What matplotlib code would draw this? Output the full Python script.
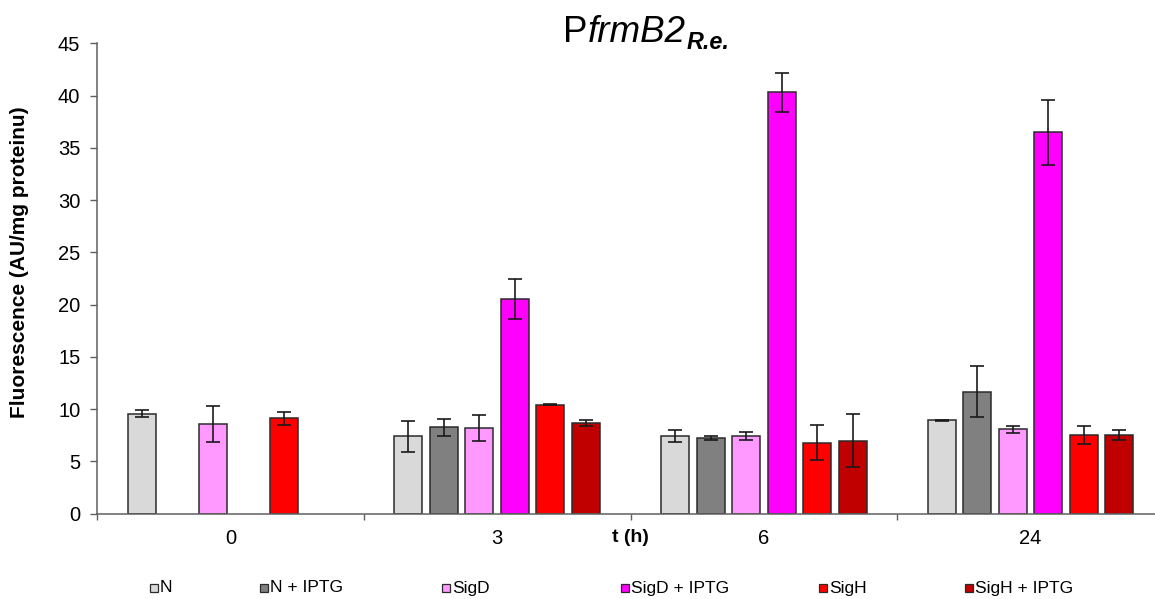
import matplotlib
matplotlib.use("Agg")
import matplotlib.pyplot as plt
import numpy as np
from matplotlib.patches import Rectangle

plt.rcParams["font.family"] = ["Liberation Sans", "DejaVu Sans"]

# time points (h) and strains
times = ["0", "3", "6", "24"]
series = ["N", "N + IPTG", "SigD", "SigD + IPTG", "SigH", "SigH + IPTG"]
colors = ["#D9D9D9", "#808080", "#FF99FF", "#FF00FF", "#FF0000", "#C00000"]

# fluorescence (AU/mg proteinu), one list per series over the time points
n_vals = [9.57, 7.43, 7.43, 8.93]
n_iptg_vals = [np.nan, 8.26, 7.21, 11.67]
sigd_vals = [8.60, 8.17, 7.43, 8.07]
sigd_iptg_vals = [np.nan, 20.54, 40.31, 36.48]
sigh_vals = [9.12, 10.43, 6.80, 7.53]
sigh_iptg_vals = [np.nan, 8.71, 6.99, 7.53]

n_err = [0.33, 1.48, 0.53, 0.05]
n_iptg_err = [np.nan, 0.80, 0.20, 2.45]
sigd_err = [1.75, 1.24, 0.37, 0.32]
sigd_iptg_err = [np.nan, 1.96, 1.85, 3.10]
sigh_err = [0.64, 0.05, 1.66, 0.90]
sigh_iptg_err = [np.nan, 0.29, 2.57, 0.50]

values = [n_vals, n_iptg_vals, sigd_vals, sigd_iptg_vals, sigh_vals, sigh_iptg_vals]
errors = [n_err, n_iptg_err, sigd_err, sigd_iptg_err, sigh_err, sigh_iptg_err]

W, H = 1155, 599
fig = plt.figure(figsize=(W / 100, H / 100), dpi=100)
# axis runs slightly past the right edge of the canvas
ax = fig.add_axes([97 / W, 85.3 / H, 1067 / W, 470.4 / H])

step = 0.1332
width = 0.105
groups = np.arange(len(times))
for k, (vals, errs, col) in enumerate(zip(values, errors, colors)):
    x = groups + 0.5 + (k - 2.5) * step
    ax.bar(x, vals, width=width, color=col, edgecolor="#2b2b2b", linewidth=1.1, zorder=2)
    ax.errorbar(x, vals, yerr=errs, fmt="none", ecolor="#1a1a1a", elinewidth=1.2,
                capsize=4.8, capthick=1.2, zorder=3)

ax.set_xlim(0, len(times))
ax.set_ylim(0, 45)
ax.set_yticks(np.arange(0, 46, 5))
ax.set_xticks(np.arange(0, len(times) + 1))
ax.set_xticklabels([])
ax.set_xticks(groups + 0.5, minor=True)
ax.set_xticklabels(times, minor=True)

for side in ("top", "right"):
    ax.spines[side].set_visible(False)
for side in ("left", "bottom"):
    ax.spines[side].set_color("#606060")
    ax.spines[side].set_linewidth(1.1)

ax.tick_params(axis="y", direction="out", length=4.7, width=1.0, color="#606060",
               labelsize=14.5, pad=7.3)
ax.tick_params(axis="x", which="major", direction="out", length=4.5, width=1.0, color="#606060")
ax.tick_params(axis="x", which="minor", length=0, labelsize=14.5, pad=11.0)

ax.set_xlabel("t (h)", fontsize=14, fontweight="bold", va="top")
ax.xaxis.set_label_coords(0.5, -0.033)
ax.set_ylabel("Fluorescence (AU/mg proteinu)", fontsize=15, fontweight="bold", va="center")
ax.yaxis.set_label_coords(-0.0722, 0.535)

# title: P + italic gene name + bold italic subscript
renderer = fig.canvas.get_renderer()
x0, base = 563 / W, (H - 41.7) / H
parts = [("P", 26.5, "normal", "normal", 0.0, 0.0),
         ("frmB2", 26.5, "italic", "normal", 0.0, 0.0),
         ("R.e.", 16.8, "italic", "bold", -7.0, 0.5)]
for txt, size, style, weight, dy, gap in parts:
    t = fig.text(x0 + gap / W, base + dy / H, txt, fontsize=size, style=style,
                 fontweight=weight, ha="left", va="baseline")
    bb = t.get_window_extent(renderer)
    x0 = bb.x1 / W

# legend row along the bottom
leg_x = [150, 260, 442, 621, 819, 965]
leg_y = H - 588
sq = 8
for lx, name, col in zip(leg_x, series, colors):
    fig.patches.append(Rectangle((lx / W, (leg_y - sq / 2) / H), sq / W, sq / H,
                                 transform=fig.transFigure, facecolor=col,
                                 edgecolor="#2b2b2b", linewidth=0.9))
    fig.text((lx + sq + 2) / W, leg_y / H, name, fontsize=12.5, ha="left", va="center")

fig.savefig("out.png", dpi=100)
